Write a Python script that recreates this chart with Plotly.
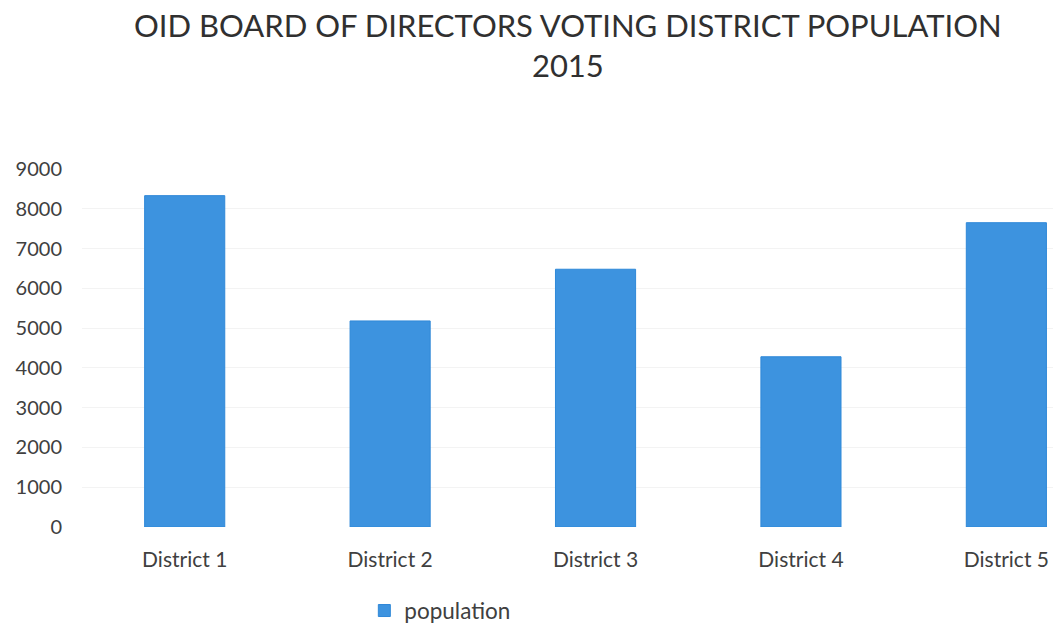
import plotly.graph_objects as go

categories = ["District 1", "District 2", "District 3", "District 4", "District 5"]
population = [8330, 5180, 6480, 4280, 7650]
y_ticks = [0, 1000, 2000, 3000, 4000, 5000, 6000, 7000, 8000, 9000]
title_lines = ["OID BOARD OF DIRECTORS VOTING DISTRICT POPULATION", "2015"]

FONT = "Lato"
TEXT = "#404040"

fig = go.Figure()
fig.add_trace(go.Bar(
    x=categories, y=population, name="population",
    marker=dict(color="#3d93df", line=dict(color="#2f88d8", width=1)),
))

fig.update_layout(
    width=1053, height=624,
    margin=dict(l=82, r=0, t=169, b=97),
    paper_bgcolor="white", plot_bgcolor="white",
    bargap=0.61,
    showlegend=True,
    legend=dict(orientation="h", xref="container", yref="container",
                x=0.346, y=0.021, xanchor="left", yanchor="middle",
                font=dict(family=FONT, size=22.5, color=TEXT)),
    font=dict(family=FONT, color=TEXT),
    annotations=[dict(
        text="<br>".join(title_lines), xref="paper", yref="paper",
        x=0.5, y=1.0, xanchor="center", yanchor="bottom", yshift=83,
        showarrow=False, font=dict(family=FONT, size=31, color="#303030"),
    )],
)
fig.update_xaxes(range=[-0.5, 4.227], showgrid=False, showline=False, zeroline=False,
                 tickfont=dict(family=FONT, size=21, color=TEXT), ticklabelstandoff=18)
fig.update_yaxes(range=[0, 9000], tickvals=y_ticks, showgrid=True, gridcolor="#f3f3f3",
                 zeroline=False, showline=False,
                 tickfont=dict(family=FONT, size=20, color=TEXT), ticklabelstandoff=19)

fig.write_html("out.html", config={"displayModeBar": False},
               post_script="document.body.style.margin='0';document.body.style.overflow='hidden';")
